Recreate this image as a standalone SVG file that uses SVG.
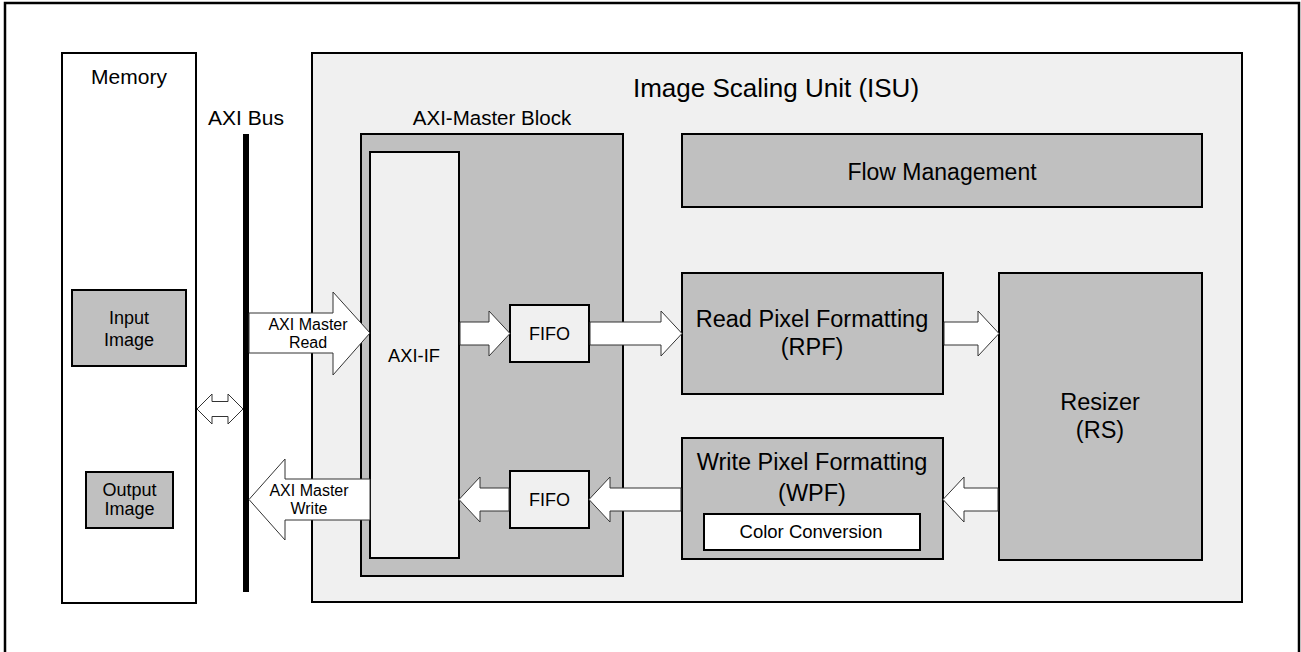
<svg xmlns="http://www.w3.org/2000/svg" width="1301" height="652" viewBox="0 0 1301 652">
<style>
text{font-family:"Liberation Sans",Arial,sans-serif;fill:#000;text-anchor:middle}
.box{stroke:#000;stroke-width:2}
.lt{fill:#f0f0f0}
.gr{fill:#c0c0c0}
.wh{fill:#fff}
.arr{fill:#fff;stroke:#333;stroke-width:1}
</style>
<rect x="0" y="0" width="1301" height="652" fill="#fff"/>
<rect x="5" y="3" width="1294" height="700" fill="none" stroke="#000" stroke-width="2.5"/>
<g id="memory">
<rect class="box wh" x="62" y="53" width="134" height="550"/>
<text x="129" y="84" font-size="21">Memory</text>
</g>
<g id="input-image">
<rect class="box gr" x="72" y="290" width="114" height="76"/>
<text x="129" y="324" font-size="18">Input</text>
<text x="129" y="346" font-size="18">Image</text>
</g>
<g id="output-image">
<rect class="box gr" x="86" y="472" width="87" height="56"/>
<text x="129.5" y="496" font-size="18">Output</text>
<text x="129.5" y="515" font-size="18">Image</text>
</g>
<g id="axi-bus">
<rect x="243" y="134" width="6" height="458" fill="#000"/>
<text x="246" y="125" font-size="21">AXI Bus</text>
</g>
<g id="isu">
<rect class="box lt" x="312" y="53" width="930" height="549"/>
<text x="776" y="97" font-size="26">Image Scaling Unit (ISU)</text>
</g>
<g id="axi-master-block">
<rect class="box gr" x="361" y="134" width="262" height="442"/>
<text x="492" y="125" font-size="20.5">AXI-Master Block</text>
</g>
<g id="axi-if">
<rect class="box lt" x="370" y="152" width="89" height="406"/>
<text x="414" y="362" font-size="18.3">AXI-IF</text>
</g>
<g id="fifo-read">
<rect class="box lt" x="510" y="305" width="79" height="57"/>
<text x="549.5" y="340" font-size="18">FIFO</text>
</g>
<g id="fifo-write">
<rect class="box lt" x="510" y="471" width="79" height="57"/>
<text x="549.5" y="506" font-size="18">FIFO</text>
</g>
<g id="flow-management">
<rect class="box gr" x="682" y="134" width="520" height="73"/>
<text x="942" y="180" font-size="23">Flow Management</text>
</g>
<g id="rpf">
<rect class="box gr" x="682" y="273" width="261" height="121"/>
<text x="812" y="327" font-size="23.5">Read Pixel Formatting</text>
<text x="812" y="355" font-size="23.5">(RPF)</text>
</g>
<g id="wpf">
<rect class="box gr" x="682" y="438" width="261" height="121"/>
<text x="812" y="470" font-size="23.5">Write Pixel Formatting</text>
<text x="812" y="501" font-size="23.5">(WPF)</text>
<g id="color-conversion">
<rect class="box wh" x="704" y="514" width="216" height="36"/>
<text x="811" y="538" font-size="18.5">Color Conversion</text>
</g>
</g>
<g id="resizer">
<rect class="box gr" x="999" y="273" width="203" height="287"/>
<text x="1100" y="410" font-size="23.5">Resizer</text>
<text x="1100" y="438" font-size="23.5">(RS)</text>
</g>
<g id="connectors">
<polygon class="arr" points="197,409 212,394 212,401.5 228,401.5 228,394 243,409 228,424 228,416.5 212,416.5 212,424"/>
<polygon class="arr" points="249,313 333,313 333,292 370,333 333,375 333,353 249,353"/>
<text x="308" y="330" font-size="16">AXI Master</text>
<text x="308" y="348" font-size="16">Read</text>
<polygon class="arr" points="370,479 285,479 285,459 249,499.5 285,540 285,520 370,520"/>
<text x="309" y="496" font-size="16">AXI Master</text>
<text x="309" y="514" font-size="16">Write</text>
<polygon class="arr" points="460,322 489,322 489,311 510,333.5 489,356 489,345 460,345"/>
<polygon class="arr" points="590,322 661,322 661,311 682,333.5 661,356 661,345 590,345"/>
<polygon class="arr" points="944,322 978,322 978,311 999,333.5 978,356 978,345 944,345"/>
<polygon class="arr" points="998,488 964,488 964,477 943,499.5 964,522 964,511 998,511"/>
<polygon class="arr" points="681,488 610,488 610,477 589,499.5 610,522 610,511 681,511"/>
<polygon class="arr" points="509,488 480,488 480,477 459,499.5 480,522 480,511 509,511"/>
</g>
</svg>
